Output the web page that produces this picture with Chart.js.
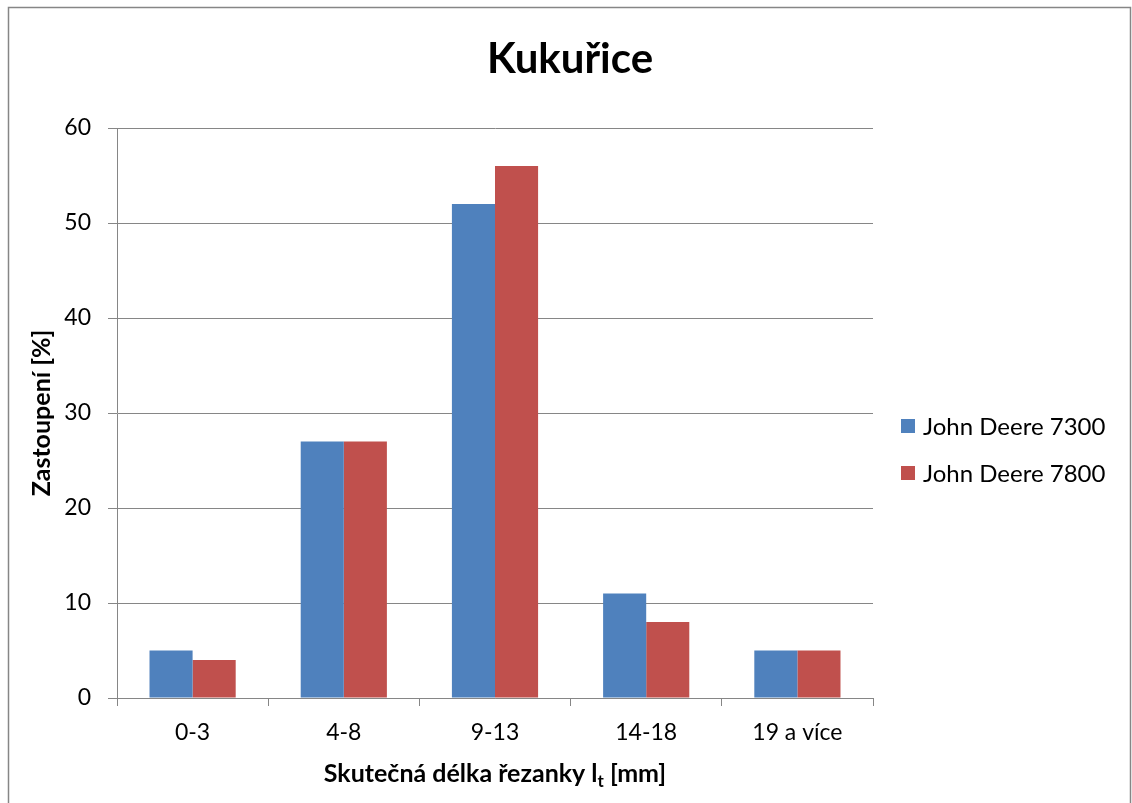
<!DOCTYPE html>
<html>
<head>
<meta charset="utf-8">
<script src="https://cdn.jsdelivr.net/npm/chart.js@4/dist/chart.umd.min.js"></script>
<style>
  html, body { margin: 0; padding: 0; background: #ffffff; }
  #wrap { width: 1132px; height: 803px; position: relative; }
</style>
</head>
<body>
<div id="wrap"><canvas id="c" width="1132" height="803"></canvas></div>
<script>
// Categories: measured cut length classes
const categories = ['0-3', '4-8', '9-13', '14-18', '19 a více'];
// Share of each class [%] per forage harvester
const jd7300 = [5, 27, 52, 11, 5];
const jd7800 = [4, 27, 56, 8, 5];
const seriesNames = ['John Deere 7300', 'John Deere 7800'];
const yTicks = [0, 10, 20, 30, 40, 50, 60];

const FONT = 'Lato, "Liberation Sans", sans-serif';
const GRID = '#868686';
const BLUE = '#4F81BD';
const RED = '#C0504D';

// Frame, title, axis titles and legend drawn on the canvas
const decor = {
  id: 'decor',
  afterDraw(chart) {
    const ctx = chart.ctx;
    const a = chart.chartArea;
    ctx.save();
    // outer frame
    ctx.strokeStyle = GRID;
    ctx.lineWidth = 1.5;
    ctx.strokeRect(8.5, 7.5, 1122, 820);

    ctx.fillStyle = '#000';
    // title
    ctx.font = 'bold 42px ' + FONT;
    ctx.textAlign = 'center';
    ctx.textBaseline = 'alphabetic';
    ctx.fillText('Kukuřice', 570, 73);

    // y axis title
    ctx.save();
    ctx.translate(50, (a.top + a.bottom) / 2);
    ctx.rotate(-Math.PI / 2);
    ctx.font = 'bold 25px ' + FONT;
    ctx.textAlign = 'center';
    ctx.textBaseline = 'alphabetic';
    ctx.fillText('Zastoupení [%]', 0, 0);
    ctx.restore();

    // x axis title with subscript
    const main = 'Skutečná délka řezanky l';
    const sub = 't';
    const tail = ' [mm]';
    ctx.font = 'bold 25px ' + FONT;
    const w1 = ctx.measureText(main).width;
    const w3 = ctx.measureText(tail).width;
    ctx.font = 'bold 17px ' + FONT;
    const w2 = ctx.measureText(sub).width;
    const total = w1 + w2 + w3;
    let x = (a.left + a.right) / 2 - total / 2;
    const base = 782;
    ctx.textAlign = 'left';
    ctx.font = 'bold 25px ' + FONT;
    ctx.fillText(main, x, base);
    x += w1;
    ctx.font = 'bold 17px ' + FONT;
    ctx.fillText(sub, x, base + 5);
    x += w2;
    ctx.font = 'bold 25px ' + FONT;
    ctx.fillText(tail, x, base);

    // legend
    const items = chart.data.datasets;
    const ys = [426, 473];
    ctx.font = '24px ' + FONT;
    ctx.textBaseline = 'middle';
    items.forEach((ds, i) => {
      ctx.fillStyle = ds.backgroundColor;
      ctx.fillRect(901, ys[i] - 7, 14, 14);
      ctx.fillStyle = '#000';
      ctx.fillText(ds.label, 923, ys[i] + 1);
    });
    ctx.restore();
  }
};

new Chart(document.getElementById('c'), {
  type: 'bar',
  data: {
    labels: categories,
    datasets: [
      { label: seriesNames[0], data: jd7300, backgroundColor: BLUE },
      { label: seriesNames[1], data: jd7800, backgroundColor: RED }
    ]
  },
  options: {
    responsive: false,
    animation: false,
    devicePixelRatio: 1,
    layout: { padding: { top: 128, right: 259, left: 0, bottom: 0 } },
    datasets: { bar: { categoryPercentage: 0.57, barPercentage: 1.0 } },
    plugins: {
      legend: { display: false },
      title: { display: false },
      tooltip: { enabled: false }
    },
    scales: {
      x: {
        afterFit(s) { s.height = 105; },
        grid: {
          display: true,
          drawOnChartArea: false,
          drawTicks: true,
          tickLength: 8,
          color: GRID,
          lineWidth: 1,
          offset: true
        },
        border: { display: true, color: GRID, width: 1 },
        ticks: {
          color: '#000',
          font: { family: FONT, size: 23 },
          padding: 13
        }
      },
      y: {
        min: 0,
        max: 60,
        afterFit(s) { s.width = 117; },
        afterBuildTicks(s) { s.ticks = yTicks.map(v => ({ value: v })); },
        grid: {
          color: GRID,
          lineWidth: 1,
          drawTicks: true,
          tickLength: 9
        },
        border: { display: true, color: GRID, width: 1 },
        ticks: {
          color: '#000',
          font: { family: FONT, size: 23 },
          padding: 17
        }
      }
    }
  },
  plugins: [decor]
});
</script>
</body>
</html>
